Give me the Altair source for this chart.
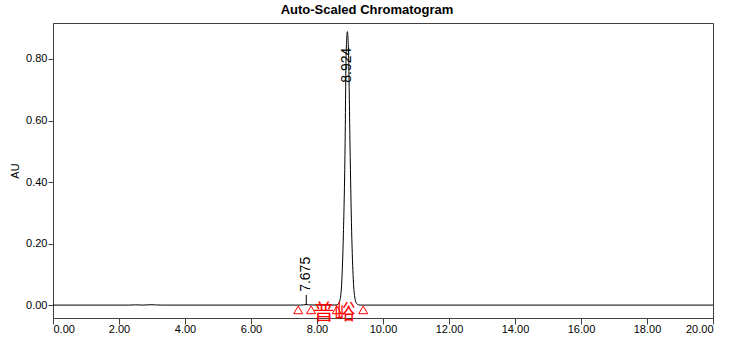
import altair as alt
import pandas as pd

# ---- data ----
rt = [0.0, 1.0, 2.3, 2.5, 2.7, 3.0, 3.1, 3.3, 4.0, 5.0, 6.0, 7.0, 7.5, 7.6, 7.675, 7.75, 8.0,
      8.45, 8.55, 8.6, 8.65, 8.7, 8.75, 8.8, 8.85, 8.88, 8.92, 8.96, 9.0, 9.05, 9.1, 9.15,
      9.2, 9.25, 9.3, 9.4, 10.0, 12.0, 15.0, 20.0]
au = [0.0, 0.0, 0.0, 0.0008, 0.0, 0.0012, 0.0005, 0.0, 0.0, 0.0, 0.0, 0.0, 0.0, 0.0008, 0.0018, 0.0006, 0.0,
      0.0, 0.0002, 0.0012, 0.0045, 0.018, 0.075, 0.232, 0.510, 0.800, 0.889, 0.800, 0.520, 0.240,
      0.082, 0.022, 0.005, 0.001, 0.0, 0.0, 0.0, 0.0, 0.0, 0.0]

peak_rt = [7.675, 8.924]
peak_label = ["7.675", "8.924"]
label_au = [0.043, 0.723]

marker_rt = [7.675]
marker_lo = [0.0]
marker_hi = [0.033]

tri_rt = [7.43, 7.82, 8.60, 9.40]
tri_au = [-0.0155, -0.0155, -0.0155, -0.0155]

note_text = ["普峪"]
note_rt = [8.52]
note_au = [-0.026]

x_ticks = [i * 0.5 for i in range(41)]          # minor every 0.5, labelled every 2.00
y_ticks = [round(i * 0.05, 2) for i in range(19)]  # minor every 0.05, labelled every 0.20

FONT = "Liberation Sans"
AXC = "#404040"

trace = pd.DataFrame({"rt": rt, "au": au})
peaks = pd.DataFrame({"rt": peak_rt, "label": peak_label, "au": label_au})
markers = pd.DataFrame({"rt": marker_rt, "lo": marker_lo, "hi": marker_hi})
tris = pd.DataFrame({"rt": tri_rt, "au": tri_au})
notes = pd.DataFrame({"rt": note_rt, "au": note_au, "text": note_text})

xs = alt.Scale(domain=[0, 20], nice=False, zero=False)
ys = alt.Scale(domain=[-0.042, 0.917], nice=False, zero=False)

x_major_test = "abs(datum.value / 2 - round(datum.value / 2)) < 0.001"
y_major_test = "abs(datum.value * 5 - round(datum.value * 5)) < 0.001"

x_axis = alt.Axis(values=x_ticks, grid=False, title=None, orient="bottom",
                  labelExpr="abs(datum.value / 2 - round(datum.value / 2)) < 0.001 ? format(datum.value, '.2f') : ''",
                  labelOverlap=False,
                  tickSize={"condition": {"test": x_major_test, "value": 6}, "value": 3},
                  labelFont=FONT, labelFontSize=11, labelColor="black", labelPadding=-1,
                  domainColor=AXC, tickColor=AXC)
y_axis = alt.Axis(values=y_ticks, grid=False, title="AU", orient="left",
                  labelExpr="abs(datum.value * 5 - round(datum.value * 5)) < 0.001 ? format(datum.value, '.2f') : ''",
                  labelOverlap=False,
                  tickSize={"condition": {"test": y_major_test, "value": 5}, "value": 3},
                  labelFont=FONT, labelFontSize=11, labelColor="black", labelPadding=1,
                  titleFont=FONT, titleFontSize=11, titleFontWeight="normal", titleColor="black",
                  titlePadding=5, domainColor=AXC, tickColor=AXC)

line = alt.Chart(trace).mark_line(color="black", strokeWidth=1, interpolate="monotone").encode(
    x=alt.X("rt:Q", scale=xs, axis=x_axis),
    y=alt.Y("au:Q", scale=ys, axis=y_axis),
)

labels = alt.Chart(peaks).mark_text(angle=270, align="left", baseline="middle", font=FONT,
                                    fontSize=14, color="black").encode(
    x=alt.X("rt:Q", scale=xs), y=alt.Y("au:Q", scale=ys), text="label:N")

rules = alt.Chart(markers).mark_rule(color="black", strokeWidth=1).encode(
    x=alt.X("rt:Q", scale=xs), y=alt.Y("lo:Q", scale=ys), y2="hi:Q")

triangles = alt.Chart(tris).mark_point(shape="triangle-up", size=80, color="red", filled=False,
                                       strokeWidth=1, opacity=1).encode(
    x=alt.X("rt:Q", scale=xs), y=alt.Y("au:Q", scale=ys))

note = alt.Chart(notes).mark_text(font="Noto Sans CJK SC", fontSize=21, color="red",
                                  baseline="middle", align="center").encode(
    x=alt.X("rt:Q", scale=xs), y=alt.Y("au:Q", scale=ys), text="text:N")

chart = alt.layer(line, rules, labels, triangles, note).properties(
    width=660, height=295,
    padding={"left": 53, "top": 23, "right": 41, "bottom": 23},
    autosize=alt.AutoSizeParams(type="none"),
    background="white",
    title=alt.TitleParams("Auto-Scaled Chromatogram", font=FONT, fontSize=13, fontWeight="bold",
                          color="black", anchor="middle", dx=-16, offset=6),
).configure_view(stroke=AXC, strokeWidth=1)

chart.save("out.html", embed_options={"renderer": "svg", "actions": False})
